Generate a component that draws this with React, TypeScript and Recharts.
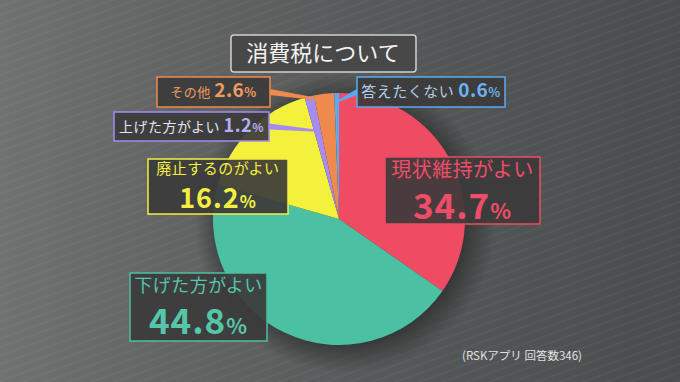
import { PieChart, Pie, Cell } from "recharts";

const categories = [
  "現状維持がよい",
  "下げた方がよい",
  "廃止するのがよい",
  "上げた方がよい",
  "その他",
  "答えたくない",
];
const shares = [34.7, 44.8, 16.2, 1.2, 2.6, 0.6];
const sliceColors = ["#ef4b63", "#4cc0a3", "#f4f13c", "#a58bf2", "#ee8a4e", "#5da9ef"];
const titleText = "消費税について";
const noteText = "(RSKアプリ 回答数346)";

const data = categories.map((name, i) => ({ name, value: shares[i] }));
const halo = [{ name: "halo", value: 1 }];

// label box layout, one per slice
const boxes = [
  { x: 385, y: 157, w: 155, h: 67, nameSize: 20, nameY: 177, valSize: 35, valY: 219, nameColor: "#ef4d67", valColor: "#ef4d67", twoLine: true },
  { x: 130, y: 273, w: 137, h: 68, nameSize: 18, nameY: 292, valSize: 35, valY: 334, nameColor: "#55c6aa", valColor: "#55c6aa", twoLine: true },
  { x: 148, y: 159, w: 140, h: 55, nameSize: 15, nameY: 174, valSize: 27, valY: 208, nameColor: "#f2ef40", valColor: "#f2ef40", twoLine: true },
  { x: 114, y: 112, w: 155, h: 29, nameSize: 14, nameY: 132, valSize: 18, valY: 133, nameColor: "#e6e3f0", valColor: "#b7adf5", twoLine: false, lineFrom: "right", r: 0.72 },
  { x: 157, y: 77, w: 113, h: 30, nameSize: 13, nameY: 97, valSize: 19, valY: 99, nameColor: "#f09a62", valColor: "#f09a62", twoLine: false, lineFrom: "right", r: 0.95 },
  { x: 357, y: 77, w: 148, h: 30, nameSize: 15, nameY: 97, valSize: 19, valY: 99, nameColor: "#b4cde6", valColor: "#6cb2f2", twoLine: false, lineFrom: "left", r: 0.93 },
];

const FONT = "'Noto Sans CJK JP', 'Noto Sans', sans-serif";
const RAD = Math.PI / 180;

const renderLabel = (props: any) => {
  const { cx, cy, midAngle, outerRadius, index } = props;
  const b = boxes[index];
  const color = sliceColors[index];
  const val = shares[index].toFixed(1);
  let leader = null;
  if (b.lineFrom) {
    const px = cx + Math.cos(-midAngle * RAD) * outerRadius * b.r;
    const py = cy + Math.sin(-midAngle * RAD) * outerRadius * b.r;
    const sx = b.lineFrom === "right" ? b.x + b.w : b.x;
    const sy = b.y + b.h / 2;
    leader = (
      <polygon
        points={`${sx},${sy - 3} ${sx},${sy + 3} ${px},${py + 1} ${px},${py - 1}`}
        fill={color}
      />
    );
  }
  return (
    <g key={"lab" + index}>
      {leader}
      <rect
        x={b.x}
        y={b.y}
        width={b.w}
        height={b.h}
        fill="#3c3b3b"
        fillOpacity={0.92}
        stroke={color}
        strokeWidth={1.5}
      />
      {b.twoLine ? (
        <>
          <text x={b.x + b.w / 2} y={b.nameY} textAnchor="middle" fontFamily={FONT} fontSize={b.nameSize} fill={b.nameColor} letterSpacing={0.5}>
            {categories[index]}
          </text>
          <text x={b.x + b.w / 2} y={b.valY} textAnchor="middle" fontFamily={FONT} fontWeight="bold" fill={b.valColor} letterSpacing={1}>
            <tspan fontSize={b.valSize}>{val}</tspan>
            <tspan fontSize={b.valSize * 0.62}>%</tspan>
          </text>
        </>
      ) : (
        <text x={b.x + b.w / 2} y={b.nameY} textAnchor="middle" fontFamily={FONT} letterSpacing={0.5}>
          <tspan fontSize={b.nameSize} fill={b.nameColor}>{categories[index] + " "}</tspan>
          <tspan fontSize={b.valSize} fontWeight="bold" fill={b.valColor}>{val}</tspan>
          <tspan fontSize={b.valSize * 0.65} fontWeight="bold" fill={b.valColor}>%</tspan>
        </text>
      )}
    </g>
  );
};

const App = () => {
  return (
    <div
      style={{
        position: "absolute",
        left: 0,
        top: 0,
        width: 680,
        height: 382,
        background:
          "repeating-linear-gradient(160deg, rgba(255,255,255,0) 0px, rgba(255,255,255,0) 5px, rgba(255,255,255,0.04) 6px, rgba(255,255,255,0) 8px), linear-gradient(90deg, #707171 0%, #636565 25%, #555858 60%, #4a4d4d 100%)",
      }}
    >
      <PieChart width={680} height={382}>
        <defs>
          <radialGradient id="halo">
            <stop offset="80%" stopColor="#333535" stopOpacity={0.9} />
            <stop offset="100%" stopColor="#333535" stopOpacity={0} />
          </radialGradient>
        </defs>
        <Pie
          data={halo}
          dataKey="value"
          cx={340}
          cy={218}
          outerRadius={150}
          stroke="none"
          fill="url(#halo)"
          isAnimationActive={false}
        />
        <Pie
          data={data}
          dataKey="value"
          cx={334}
          cy={214}
          outerRadius={126}
          startAngle={90}
          endAngle={-270}
          stroke="none"
          label={renderLabel}
          labelLine={false}
          isAnimationActive={false}
        >
          {data.map((d, i) => (
            <Cell key={d.name} fill={sliceColors[i]} />
          ))}
        </Pie>
        <rect x={231} y={35} width={185} height={37} rx={3} fill="#484848" stroke="#cfcfcf" strokeWidth={1.5} />
        <text x={323} y={61} textAnchor="middle" fontFamily={FONT} fontSize={22} fill="#f2f2f2">
          {titleText}
        </text>
        <text x={522} y={360} textAnchor="middle" fontFamily={FONT} fontSize={11.5} fill="#e0e0e0">
          {noteText}
        </text>
      </PieChart>
    </div>
  );
};

export default App;
